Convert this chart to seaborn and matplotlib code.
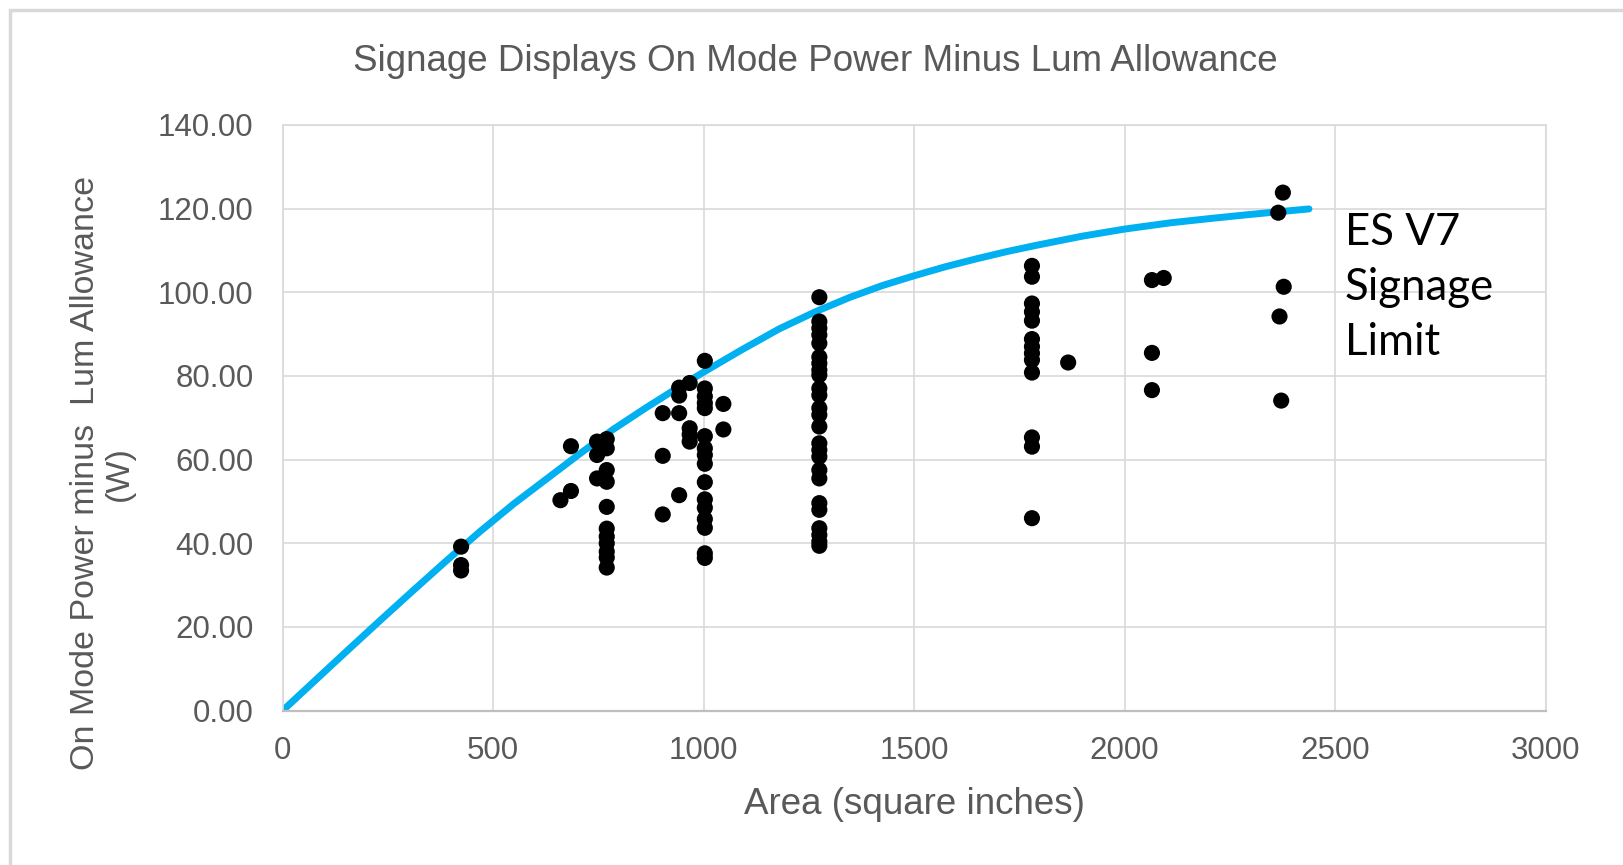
import matplotlib
matplotlib.use("Agg")
import matplotlib.pyplot as plt
import pandas as pd
import seaborn as sns
from matplotlib.patches import Rectangle

# Measured models: screen area (sq in) and on mode power minus lum allowance (W)
areas = [424, 660, 685, 747, 770, 903, 942, 967, 1003, 1047, 1275, 1780, 1866, 2065, 2093,
         2376, 2365, 2378, 2368, 2372]
powers = [
    [39.2, 34.8, 33.5],
    [50.3],
    [63.2, 52.5],
    [64.3, 61.1, 55.5],
    [64.9, 62.7, 57.5, 54.7, 48.7, 43.5, 41.6, 40.0, 38.0, 36.6, 34.2],
    [71.1, 60.9, 46.9],
    [77.2, 75.3, 71.1, 51.5],
    [78.3, 67.5, 66.0, 64.3],
    [83.6, 77.0, 75.1, 73.5, 72.3, 65.6, 62.7, 61.1, 59.0, 54.6, 50.5, 48.5, 45.8, 43.7, 37.6, 36.5],
    [73.3, 67.2],
    [98.8, 93.0, 91.4, 89.8, 87.8, 84.5, 83.0, 81.4, 80.2, 77.0, 75.4, 72.3, 70.7, 67.9, 63.9,
     62.3, 60.7, 57.5, 55.5, 49.6, 48.0, 43.6, 42.0, 40.4, 39.4],
    [106.3, 103.7, 97.3, 95.3, 93.2, 88.8, 87.0, 85.4, 83.8, 80.8, 65.3, 63.1, 46.0],
    [83.2],
    [102.9, 85.5, 76.6],
    [103.4],
    [123.8],
    [119.0],
    [101.3],
    [94.2],
    [74.1],
]

# ES V7 signage limit curve
limit_area = [0, 75, 150, 230, 310, 390, 470, 550, 630, 706, 785, 865, 944, 1000, 1090, 1179,
              1265, 1348, 1425, 1499, 1575, 1649, 1720, 1790, 1900, 2001, 2110, 2212, 2290,
              2363, 2438]
limit_power = [0, 7.0, 14.0, 21.4, 28.7, 35.9, 42.9, 49.5, 55.6, 61.4, 67.2, 72.5, 77.5, 80.9,
               86.2, 91.2, 95.3, 98.8, 101.6, 103.9, 106.1, 108.0, 109.7, 111.2, 113.4, 115.1,
               116.6, 117.7, 118.5, 119.2, 119.9]

x_ticks = [0, 500, 1000, 1500, 2000, 2500, 3000]
y_ticks = [0, 20, 40, 60, 80, 100, 120, 140]

df = pd.DataFrame({
    "area": [a for a, ps in zip(areas, powers) for _ in ps],
    "power": [p for ps in powers for p in ps],
})
limit = pd.DataFrame({"area": limit_area, "power": limit_power})

sns.set_theme(style="whitegrid")
plt.rcParams["font.family"] = ["Liberation Sans", "DejaVu Sans"]

fig = plt.figure(figsize=(16.23, 8.65), dpi=100)
ax = fig.add_axes([0.1741, 0.1784, 0.7782, 0.6773])

grey_txt = "#595959"
grid_col = "#d9d9d9"

sns.lineplot(data=limit, x="area", y="power", ax=ax, color="#00b0f0", linewidth=5,
             solid_capstyle="round", zorder=2)
sns.scatterplot(data=df, x="area", y="power", ax=ax, color="black", s=135,
                edgecolor="none", zorder=3)

ax.set_xlim(0, 3000)
ax.set_ylim(0, 140)
ax.set_xticks(x_ticks)
ax.set_yticks(y_ticks)
ax.set_xticklabels([str(t) for t in x_ticks])
ax.set_yticklabels([f"{t:.2f}" for t in y_ticks])
ax.tick_params(axis="both", length=0, labelsize=22.5, labelcolor=grey_txt)
ax.tick_params(axis="y", pad=21)
ax.tick_params(axis="x", pad=18)
ax.grid(True, color=grid_col, linewidth=1.2)
ax.set_axisbelow(True)
for name, sp in ax.spines.items():
    sp.set_color(grid_col)
    sp.set_linewidth(1.2)
ax.spines["bottom"].set_color("#bfbfbf")
ax.spines["bottom"].set_linewidth(1.6)

ax.set_xlabel("Area (square inches)", fontsize=26.5, color=grey_txt, labelpad=15)
ax.set_ylabel("")
fig.text(0.0632, 0.453, "On Mode Power minus  Lum Allowance\n(W)", rotation=90,
         ha="center", va="center", fontsize=24.5, color=grey_txt, linespacing=1.1,
         multialignment="center")

fig.text(0.5025, 0.929, "Signage Displays On Mode Power Minus Lum Allowance",
         ha="center", va="center", fontsize=26.5, color=grey_txt)

fig.text(0.8287, 0.755, "ES V7\nSignage\nLimit", ha="left", va="top", fontsize=31.5,
         color="black", family=["Lato", "DejaVu Sans"], linespacing=1.42)

fig.patches.append(Rectangle((10 / 1623, -0.05), 1.1, 1 - 10 / 865 + 0.05,
                             transform=fig.transFigure, fill=False,
                             edgecolor="#d9d9d9", linewidth=2.5))

fig.savefig("out.png", dpi=100)
